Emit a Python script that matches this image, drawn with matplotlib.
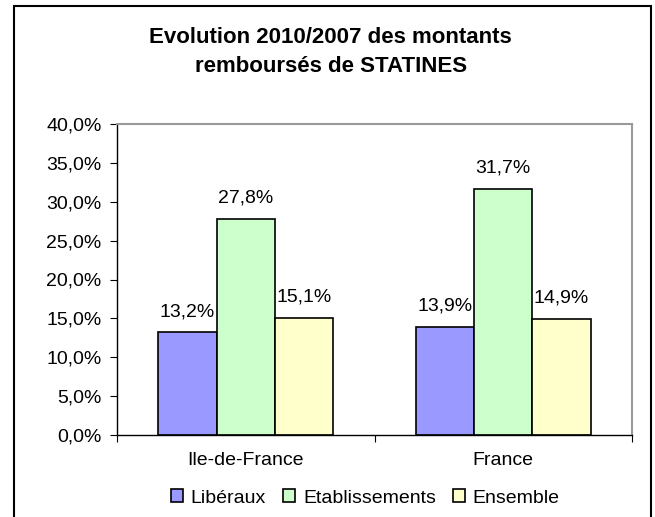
import matplotlib.pyplot as plt
from matplotlib.patches import Rectangle
import numpy as np

plt.rcParams['font.family'] = ['Liberation Sans', 'DejaVu Sans']

# data
categories = ["Ile-de-France", "France"]
series = ["Libéraux", "Etablissements", "Ensemble"]
liberaux = [13.2, 13.9]
etablissements = [27.8, 31.7]
ensemble = [15.1, 14.9]
colors = ["#9999FF", "#CCFFCC", "#FFFFCC"]
yticks = [0, 5, 10, 15, 20, 25, 30, 35, 40]

fig = plt.figure(figsize=(6.55, 5.17), dpi=100)
ax = fig.add_axes([117 / 655, 1 - 435 / 517, 515 / 655, 311 / 517])

# outer frame of the chart
fig.patches.append(Rectangle((14 / 655, -0.01), 637 / 655, 1 - 6 / 517 + 0.01,
                             transform=fig.transFigure, fill=False,
                             edgecolor="black", linewidth=1.5))

x = np.arange(len(categories))
w = 0.226
for i, (vals, name) in enumerate(zip([liberaux, etablissements, ensemble], series)):
    bars = ax.bar(x + (i - 1) * w, vals, w, color=colors[i], edgecolor="black",
                  linewidth=1.2, label=name)
    for b, v in zip(bars, vals):
        ax.text(b.get_x() + b.get_width() / 2, v + 2.1,
                ("%.1f%%" % v).replace(".", ","), ha="center", va="baseline",
                fontsize=14)

ax.set_xlim(-0.5, 1.5)
ax.set_ylim(0, 40)
ax.set_yticks(yticks)
ax.set_yticklabels([("%.1f%%" % t).replace(".", ",") for t in yticks], fontsize=14)
ax.set_xticks([-0.5, 0.5, 1.5])
ax.set_xticklabels([])
ax.set_xticks(x, minor=True)
ax.set_xticklabels(categories, minor=True, fontsize=14)
ax.tick_params(axis="x", which="minor", length=0, pad=12)
ax.tick_params(axis="x", which="major", length=5, color="black")
ax.tick_params(axis="y", length=5, pad=6)

for s in ["top", "right"]:
    ax.spines[s].set_color("#999999")
    ax.spines[s].set_linewidth(1.5)
for s in ["left", "bottom"]:
    ax.spines[s].set_color("black")
    ax.spines[s].set_linewidth(1.0)

fig.text(0.505, 1 - 52 / 517, "Evolution 2010/2007 des montants\nremboursés de STATINES",
         ha="center", va="center", fontsize=16, fontweight="bold", linespacing=1.5)

fig.legend(loc="center", bbox_to_anchor=(0.558, 1 - 498 / 517), ncol=3, frameon=False,
           fontsize=14, handlelength=0.6, handleheight=0.6, handletextpad=0.4,
           columnspacing=0.9, borderpad=0)

fig.savefig("out.png", dpi=100)
